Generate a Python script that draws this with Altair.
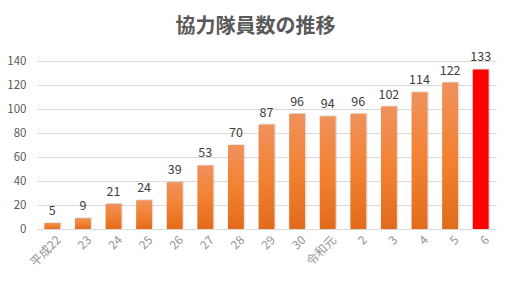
import altair as alt
import pandas as pd

years = ["平成22", "23", "24", "25", "26", "27", "28", "29", "30", "令和元", "2", "3", "4", "5", "6"]
members = [5, 9, 21, 24, 39, 53, 70, 87, 96, 94, 96, 102, 114, 122, 133]

df = pd.DataFrame({"year": years, "members": members})
FONT = "Noto Sans CJK JP"

x = alt.X("year:N", sort=years, title=None,
          scale=alt.Scale(paddingInner=0.48, paddingOuter=0.24),
          axis=alt.Axis(labelAngle=-45, labelColor="#939393", labelFontSize=12,
                        labelFont=FONT, ticks=False, domain=True, domainColor="#d9d9d9",
                        labelPadding=5, labelOffset=3))
y = alt.Y("members:Q", title=None,
          scale=alt.Scale(domain=[0, 140], nice=False),
          axis=alt.Axis(values=[0, 20, 40, 60, 80, 100, 120, 140], labelColor="#595959",
                        labelFontSize=11.5, labelFont=FONT, ticks=False, domain=False,
                        gridColor="#d9d9d9", labelPadding=11))

base = alt.Chart(df)

shadow = base.mark_bar(color="#999999", opacity=0.25, xOffset=1.5, yOffset=-1).encode(x=x, y=y)

orange = base.transform_filter("datum.year != '6'").mark_bar(
    color=alt.Gradient(gradient="linear",
                       stops=[alt.GradientStop(color="#F0915C", offset=0),
                              alt.GradientStop(color="#F28232", offset=0.5),
                              alt.GradientStop(color="#E26B1B", offset=1)],
                       x1=0, x2=0, y1=0, y2=1)
).encode(x=x, y=y)

red = base.transform_filter("datum.year == '6'").mark_bar(color="#FF0000").encode(x=x, y=y)

labels = base.mark_text(dy=-12, fontSize=12.5, color="#404040", font=FONT).encode(
    x=x, y=y, text="members:Q")

chart = alt.layer(shadow, orange, red, labels).properties(
    width=459, height=168,
    title=alt.TitleParams("協力隊員数の推移", fontSize=20, font=FONT, fontWeight="bold",
                          color="#595959", anchor="middle", dx=-11, offset=14),
    autosize=alt.AutoSizeParams(type="none"),
    padding={"left": 37, "top": 61, "right": 14, "bottom": 56},
).configure_view(stroke=None)

chart.save("out.html", embed_options={"renderer": "svg", "actions": False})
